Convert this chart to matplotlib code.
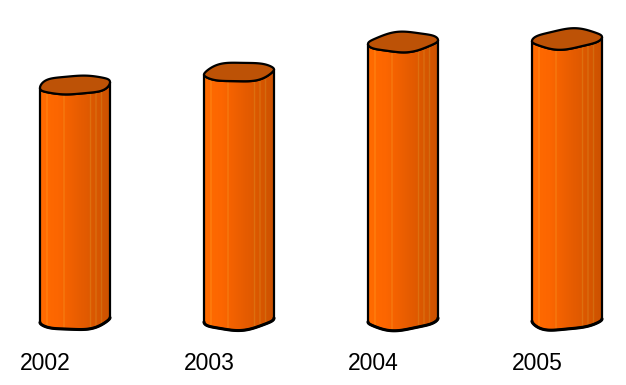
import numpy as np
import matplotlib.pyplot as plt
from matplotlib.patches import Polygon

years = ['2002', '2003', '2004', '2005']
values = [235, 248, 278, 281]

fig = plt.figure(figsize=(6.26, 3.85), dpi=100)
ax = fig.add_axes([0, 0, 1, 1])
ax.set_xlim(-75 / 164, 551 / 164)
ax.set_ylim(-65, 320)
ax.axis('off')

half_w = 35 / 164   # cylinder half width in category units
ry = 9.5            # rim half height
tilt = 2            # right side sits a little higher

t = np.linspace(np.pi, 3 * np.pi, 241)


def rim(cx, cy, seed):
    # slightly hand-drawn ellipse
    x = cx + half_w * np.cos(t)
    y = (cy + ry * np.sin(t) + tilt * np.cos(t)
         + 0.7 * np.sin(3 * t + seed) + 0.4 * np.sin(5 * t + 2 * seed))
    return x, y


def body_colors(n=140):
    f = np.linspace(0, 1, n)
    r = np.interp(f, [0, 0.25, 0.6, 1], [1.0, 0.99, 0.9, 0.8])
    g = np.interp(f, [0, 0.25, 0.6, 1], [0.42, 0.40, 0.36, 0.32])
    b = np.zeros(n)
    col = np.stack([r, g, b], axis=1)
    for s in [0.1, 0.34, 0.72, 0.8, 0.88]:
        k = int(s * (n - 1))
        col[k:k + 2] = np.minimum(1, col[k:k + 2] + [0.0, 0.12, 0.08])
    return col[np.newaxis, :, :]


grad = body_colors()

for i, (yr, v) in enumerate(zip(years, values)):
    tx, ty = rim(i, v, 0.7 + i)
    bx, by = rim(i, 0, 1.9 + i)
    front = t <= 2 * np.pi
    # body outline: front of top rim then front of bottom rim reversed
    px = np.concatenate([tx[front], bx[front][::-1]])
    py = np.concatenate([ty[front], by[front][::-1]])
    body = Polygon(np.column_stack([px, py]), closed=True,
                   facecolor='none', edgecolor='black', lw=1.6, zorder=3)
    ax.add_patch(body)
    im = ax.imshow(grad, extent=[i - half_w, i + half_w, -ry - 6, v + ry + 6],
                   aspect='auto', zorder=2, interpolation='bilinear')
    im.set_clip_path(body)
    ax.plot(bx[front], by[front], color='black', lw=2.2, zorder=4,
            solid_capstyle='round')
    top = Polygon(np.column_stack([tx, ty]), closed=True,
                  facecolor='#bd5206', edgecolor='black', lw=1.6, zorder=5)
    ax.add_patch(top)
    ax.text(i - 55 / 164, -43, yr, ha='left', va='center',
            fontsize=16.5, family='Liberation Sans')

ax.set_xlim(-75 / 164, 551 / 164)
ax.set_ylim(-65, 320)
fig.savefig('out.png', dpi=100)
